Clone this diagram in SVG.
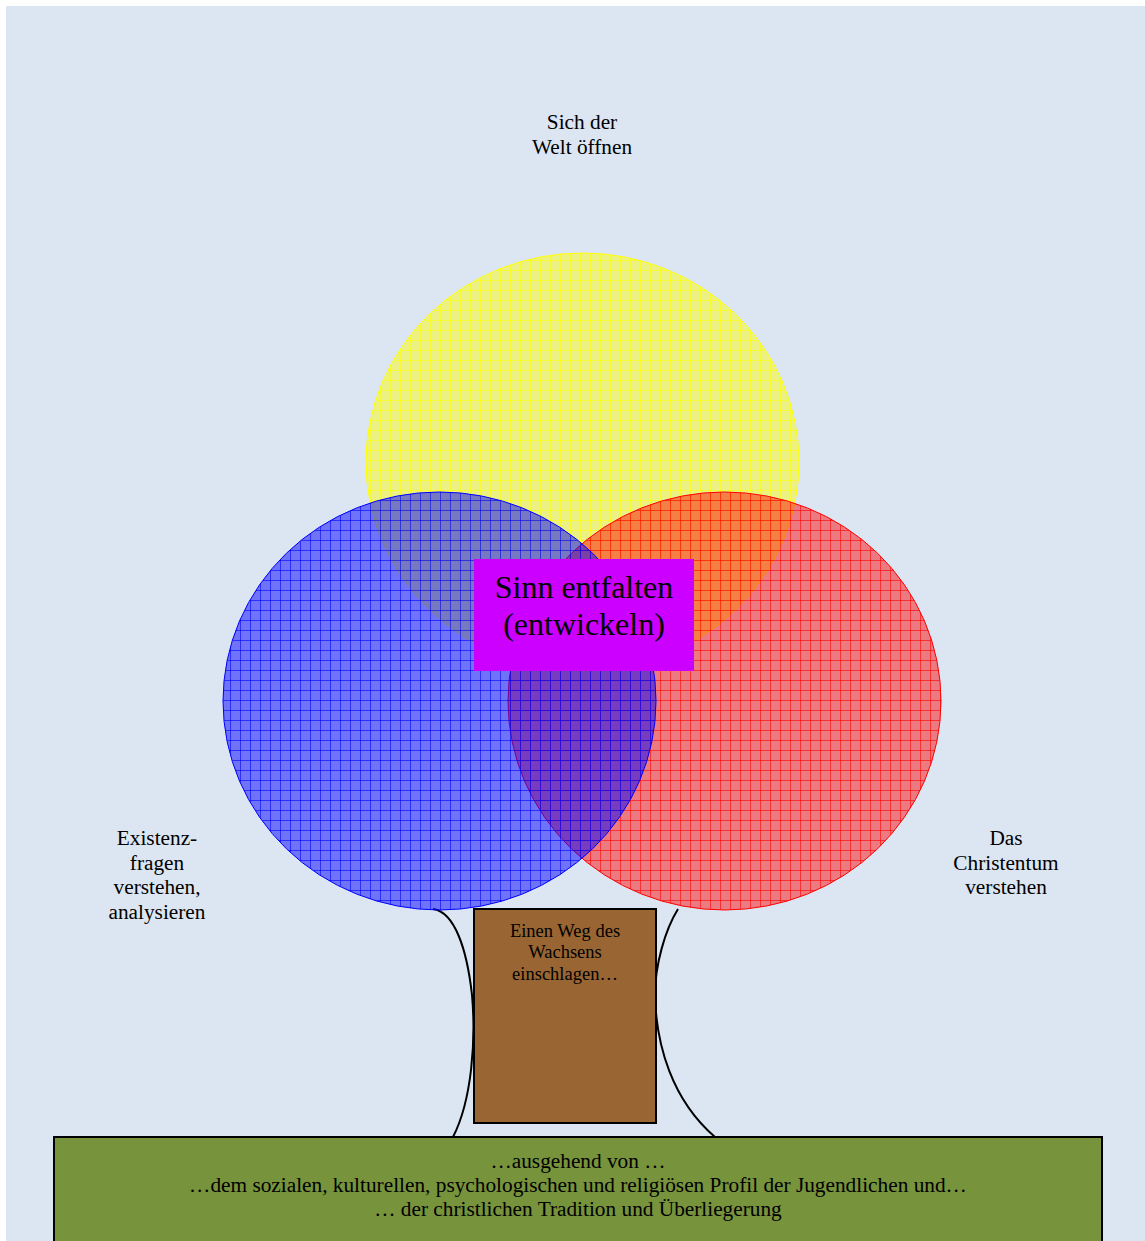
<svg xmlns="http://www.w3.org/2000/svg" width="1145" height="1241" viewBox="0 0 1145 1241">
<style>
text{font-family:"Liberation Serif","Times New Roman",serif;fill:#000;text-anchor:middle}
.lbl{font-size:21.3px}
.trunkline{fill:none;stroke:#000;stroke-width:2}
</style>
<defs>
<pattern id="pY" patternUnits="userSpaceOnUse" width="10" height="10">
<rect width="10" height="10" fill="#ffff00" fill-opacity="0.45"/>
<path d="M0 0.5H10M0.5 0V10" stroke="#ffff00" stroke-width="1" stroke-opacity="0.6"/>
</pattern>
<pattern id="pR" patternUnits="userSpaceOnUse" width="10" height="10">
<rect width="10" height="10" fill="#ff0000" fill-opacity="0.47"/>
<path d="M0 0.5H10M0.5 0V10" stroke="#ff0000" stroke-width="1" stroke-opacity="0.6"/>
</pattern>
<pattern id="pB" patternUnits="userSpaceOnUse" width="10" height="10">
<rect width="10" height="10" fill="#0000ff" fill-opacity="0.5"/>
<path d="M0 0.5H10M0.5 0V10" stroke="#0000ff" stroke-width="1" stroke-opacity="0.6"/>
</pattern>
</defs>
<rect x="0" y="0" width="1145" height="1241" fill="#ffffff"/>
<rect x="6" y="6" width="1139" height="1235" fill="#dce6f2"/>

<g id="connectors">
<path class="trunkline" d="M433 909 C455 912 467 950 472 995 C476 1040 472 1100 453 1137"/>
<path class="trunkline" d="M678 909 C665 930 655 965 655 995 C656 1045 672 1100 715 1137"/>
</g>

<g id="circle-yellow">
<ellipse cx="582.5" cy="462" rx="216.5" ry="209" fill="url(#pY)" stroke="#ffff00" stroke-width="1"/>
</g>
<g id="circle-red">
<ellipse cx="724.5" cy="701" rx="216.5" ry="209" fill="url(#pR)" stroke="#ff0000" stroke-width="1"/>
</g>
<g id="circle-blue">
<ellipse cx="439.5" cy="701" rx="216.5" ry="209" fill="url(#pB)" stroke="#0000ff" stroke-width="1"/>
</g>

<g id="center">
<rect x="474" y="559" width="220" height="112" fill="#cc00ff"/>
<text x="584" y="598" style="font-size:32px">Sinn entfalten</text>
<text x="584" y="635" style="font-size:32px">(entwickeln)</text>
</g>

<g id="label-top">
<text class="lbl" x="582" y="129">Sich der</text>
<text class="lbl" x="582" y="154">Welt öffnen</text>
</g>
<g id="label-left">
<text class="lbl" x="157" y="845">Existenz-</text>
<text class="lbl" x="157" y="870">fragen</text>
<text class="lbl" x="157" y="894">verstehen,</text>
<text class="lbl" x="157" y="919">analysieren</text>
</g>
<g id="label-right">
<text class="lbl" x="1006" y="845">Das</text>
<text class="lbl" x="1006" y="870">Christentum</text>
<text class="lbl" x="1006" y="894">verstehen</text>
</g>

<g id="trunk">
<rect x="474" y="909" width="182" height="214" fill="#996633" stroke="#000" stroke-width="2"/>
<text x="565" y="937" style="font-size:18.5px">Einen Weg des</text>
<text x="565" y="958" style="font-size:18.5px">Wachsens</text>
<text x="565" y="980" style="font-size:18.5px">einschlagen…</text>
</g>

<g id="roots">
<rect x="54" y="1137" width="1048" height="110" fill="#77933c" stroke="#000" stroke-width="2"/>
<text class="lbl" x="578" y="1168">…ausgehend von …</text>
<text class="lbl" x="578" y="1192">…dem sozialen, kulturellen, psychologischen und religiösen Profil der Jugendlichen und…</text>
<text class="lbl" x="578" y="1216">… der christlichen Tradition und Überliegerung</text>
</g>
</svg>
